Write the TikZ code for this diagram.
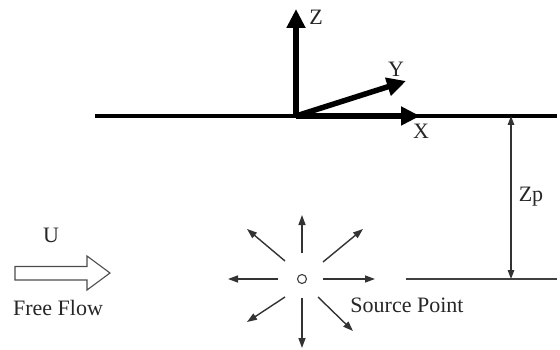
\documentclass[tikz,border=0pt]{standalone}
\usepackage{fontspec}
\setmainfont{Liberation Serif}
\usetikzlibrary{arrows.meta}
\begin{document}
\begin{tikzpicture}[x=1pt,y=-1pt,
  lbl/.style={inner sep=0pt,anchor=base,font=\fontsize{22}{25}\selectfont,text=black!85},
  axis/.style={line width=5.5pt,-{Triangle[length=19pt,width=18pt]}},
  ray/.style={line width=1.4pt,draw=black!80,-{Triangle[length=10pt,width=7pt]}},
  dim/.style={line width=1.4pt,draw=black!80,{Triangle[length=9pt,width=6.5pt]}-{Triangle[length=9pt,width=6.5pt]}}]
\useasboundingbox (0,0) rectangle (560,350);
% surface and axes
\coordinate (L) at (95,116);
\coordinate (R) at (557,116);
\coordinate (O) at (296,116);
\coordinate (Zt) at (296,9);
\coordinate (Yt) at (406,81);
\coordinate (Xt) at (420,116);
\draw[line width=3.2pt] (L) -- (R);
\draw[axis] (O) -- (Zt);
\draw[axis] (O) -- (Yt);
\draw[axis] (O) -- (Xt);
\node[lbl] (zl) at (316,25) {Z};
\node[lbl] (yl) at (396,77) {Y};
\node[lbl] (xl) at (421,139) {X};
% depth
\coordinate (D1) at (511,116);
\coordinate (D2) at (511,279);
\coordinate (S1) at (406,279);
\coordinate (S2) at (557,279);
\draw[line width=1.6pt,draw=black!75] (S1) -- (S2);
\draw[dim] (D1) -- (D2);
\node[lbl] (zp) at (531,201) {Zp};
% free flow
\draw[line width=1.1pt,draw=black!70] (15,266.5) -- (87,266.5) -- (87,256) -- (110,273) -- (87,290) -- (87,280) -- (15,280) -- cycle;
\node[lbl] (u) at (51,243) {U};
\node[lbl] (ff) at (58,315) {Free Flow};
% source
\node[circle,draw=black!75,line width=1.1pt,minimum size=9pt,inner sep=0pt] (src) at (302,279) {};
\foreach \a/\b/\c/\d/\n in {302/253/302/215/u, 302/298/302/348/d, 278/279/228/279/l, 323/279/375/279/r, 323/262/363/229/ne, 285/261/247/229/nw, 285/297/247/322/sw, 318/297/353/331/se}{
  \coordinate (a\n) at (\a,\b);
  \coordinate (b\n) at (\c,\d);
  \draw[ray] (a\n) -- (b\n);
}
\node[lbl] (sp) at (407,312) {Source Point};
\end{tikzpicture}
\end{document}
